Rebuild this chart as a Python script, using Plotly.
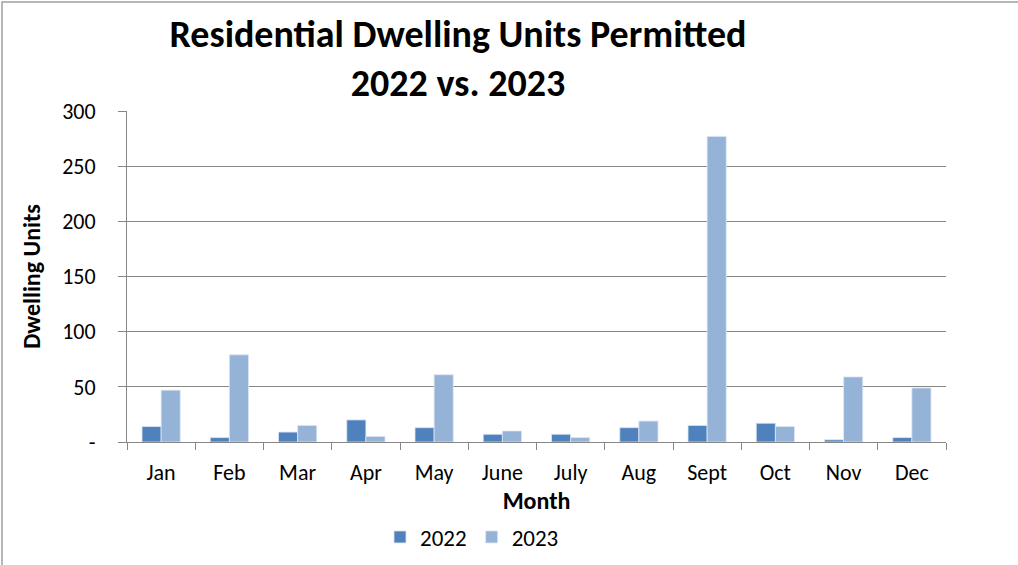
import plotly.graph_objects as go

months = ["Jan", "Feb", "Mar", "Apr", "May", "June", "July", "Aug", "Sept", "Oct", "Nov", "Dec"]
units_2022 = [14, 4, 9, 20, 13, 7, 7, 13, 15, 17, 2, 4]
units_2023 = [47, 79, 15, 5, 61, 10, 4, 19, 277, 14, 59, 49]
y_ticks = [0, 50, 100, 150, 200, 250, 300]
y_tick_labels = ["-", "50", "100", "150", "200", "250", "300"]

FONT = "Calibri, Carlito, Lato, sans-serif"
W, H = 1018, 565
L, R, T, B = 127, 72, 111, 123
PW, PH = W - L - R, H - T - B

fig = go.Figure()
fig.add_trace(go.Bar(x=months, y=units_2022, name="2022",
                     marker=dict(color="#4F81BD", line=dict(color="#DCE6F2", width=0.8))))
fig.add_trace(go.Bar(x=months, y=units_2023, name="2023",
                     marker=dict(color="#95B3D7", line=dict(color="#DCE6F2", width=0.8))))

fig.update_layout(
    width=W, height=H,
    margin=dict(l=L, r=R, t=T, b=B, autoexpand=False),
    paper_bgcolor="white", plot_bgcolor="white",
    font=dict(family=FONT, size=22, color="black"),
    barmode="group", bargap=0.44, bargroupgap=0,
    showlegend=True,
    legend=dict(orientation="h", xref="container", yref="container",
                x=472 / W, xanchor="center", y=1 - 537 / H, yanchor="middle",
                font=dict(size=23), traceorder="normal", itemwidth=30),
    title=dict(text="<b>Residential Dwelling Units Permitted<br>2022 vs. 2023</b>",
               x=458 / W, xanchor="center", y=1 - 47 / H, yanchor="middle",
               font=dict(family=FONT, size=38, color="black")),
    shapes=[dict(type="rect", xref="paper", yref="paper",
                 x0=-(L - 2) / PW, x1=1 + (R + 10) / PW, y0=-(B + 10) / PH, y1=1 + (T - 2) / PH,
                 line=dict(color="#A0A0A0", width=1.5), fillcolor="rgba(0,0,0,0)")],
)

fig.update_xaxes(
    title=dict(text="<b>Month</b>", font=dict(size=24), standoff=2),
    showline=True, linecolor="#868686", linewidth=1,
    ticks="outside", tickson="boundaries", ticklen=7, tickcolor="#868686",
    showgrid=False, tickfont=dict(size=22), ticklabelstandoff=11, automargin=False,
)
fig.update_yaxes(
    title=dict(text="<b>Dwelling Units</b>", font=dict(size=24), standoff=14),
    range=[0, 300], tickvals=y_ticks, ticktext=y_tick_labels,
    showline=True, linecolor="#868686", linewidth=1,
    ticks="outside", ticklen=8, tickcolor="#868686",
    showgrid=True, gridcolor="#868686", gridwidth=1,
    zeroline=False, tickfont=dict(size=22), ticklabelstandoff=18, automargin=False,
)

fig.write_html("out.html", config={"displayModeBar": False},
               post_script="document.body.style.margin='0';")
